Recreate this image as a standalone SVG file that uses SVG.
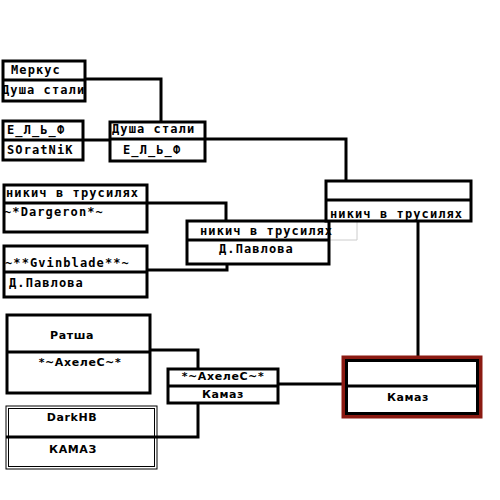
<svg xmlns="http://www.w3.org/2000/svg" width="500" height="500" viewBox="0 0 500 500">
<style>
.b{fill:#fff;stroke:#000;stroke-width:3}
.d{stroke:#000;stroke-width:3}
.t{font-family:"DejaVu Sans Mono","Liberation Mono",monospace;font-weight:bold;font-size:12px;letter-spacing:1.1px;fill:#000}
.s{font-family:"DejaVu Sans","Liberation Sans",sans-serif;font-weight:bold;font-size:11px;letter-spacing:0.6px;fill:#000}
.c{fill:none;stroke:#000;stroke-width:3}
</style>
<rect width="500" height="500" fill="#fff"/>
<g id="connectors">
<polyline class="c" points="85,79 161,79 161,122"/>
<line class="c" x1="83" y1="140" x2="109" y2="140"/>
<polyline class="c" points="205,139 346,139 346,181"/>
<polyline class="c" points="147,203 226,203 226,222"/>
<polyline class="c" points="147,270 227,270 227,264"/>
<polyline fill="none" stroke="#ccc" stroke-width="1" points="330,240 357,240 357,221"/>
<line class="c" x1="418" y1="221" x2="418" y2="358"/>
<polyline class="c" points="150,350 198,350 198,369"/>
<polyline class="c" points="157,437 198,437 198,404"/>
<line class="c" x1="278" y1="384" x2="343" y2="384"/>
</g>
<g id="n1"><rect class="b" x="3" y="61" width="82" height="40"/><line class="d" x1="3" y1="80" x2="85" y2="80"/>
<text class="t" x="11" y="74">Меркус</text><text class="t" x="2" y="94">Душа стали</text></g>
<g id="n2"><rect class="b" x="3" y="121" width="80" height="39"/><line class="d" x1="3" y1="140" x2="83" y2="140"/>
<text class="t" x="7" y="134">Е_Л_Ь_Ф</text><text class="t" x="7" y="154">SOratNiK</text></g>
<g id="n3"><rect class="b" x="110" y="122" width="95" height="39"/><line class="d" x1="110" y1="139" x2="205" y2="139"/>
<text class="t" x="112" y="133">Душа стали</text><text class="t" x="123" y="154">Е_Л_Ь_Ф</text></g>
<g id="n4"><rect class="b" x="4" y="185" width="143" height="47"/><line class="d" x1="4" y1="203" x2="147" y2="203"/>
<text class="t" x="6" y="197">никич в трусилях</text><text class="t" x="4" y="216">~*Dargeron*~</text></g>
<g id="n5"><rect class="b" x="4" y="246" width="143" height="51"/><line class="d" x1="4" y1="272" x2="147" y2="272"/>
<text class="t" x="5" y="267">~**Gvinblade**~</text><text class="t" x="9" y="287">Д.Павлова</text></g>
<g id="n6"><rect class="b" x="187" y="221" width="142" height="43"/><line class="d" x1="187" y1="240" x2="329" y2="240"/>
<text class="t" x="200" y="235">никич в трусилях</text><text class="t" x="219" y="253">Д.Павлова</text></g>
<g id="n7"><rect class="b" x="326" y="181" width="145" height="40"/><line class="d" x1="326" y1="200" x2="471" y2="200"/>
<text class="t" x="330" y="218">никич в трусилях</text></g>
<g id="n8"><rect class="b" x="7" y="315" width="143" height="78" stroke-width="4"/><line class="d" x1="7" y1="352" x2="150" y2="352"/>
<text class="s" x="72" y="339" text-anchor="middle">Ратша</text><text class="s" x="80" y="366" text-anchor="middle">*~АхелеС~*</text></g>
<g id="n9"><rect x="6" y="406" width="151" height="63" fill="#fff" stroke="#000" stroke-width="1"/><rect x="8.5" y="408.5" width="146" height="58" fill="none" stroke="#000" stroke-width="1"/><line class="d" x1="6" y1="437" x2="157" y2="437"/>
<text class="s" x="72" y="421" text-anchor="middle">DarkHB</text><text class="s" x="73" y="453" text-anchor="middle">КАМАЗ</text></g>
<g id="n10"><rect class="b" x="168" y="369" width="110" height="34"/><line class="d" x1="168" y1="386" x2="278" y2="386"/>
<text class="s" x="223" y="380" text-anchor="middle">*~АхелеС~*</text><text class="s" x="223" y="398" text-anchor="middle">Камаз</text></g>
<g id="n11"><rect x="343.5" y="357.5" width="137" height="59" fill="none" stroke="#8b1a12" stroke-width="4"/><rect class="b" x="346.5" y="360.5" width="131" height="53"/><line class="d" x1="346" y1="386" x2="478" y2="386"/>
<text class="s" x="408" y="401" text-anchor="middle">Камаз</text></g>
</svg>
